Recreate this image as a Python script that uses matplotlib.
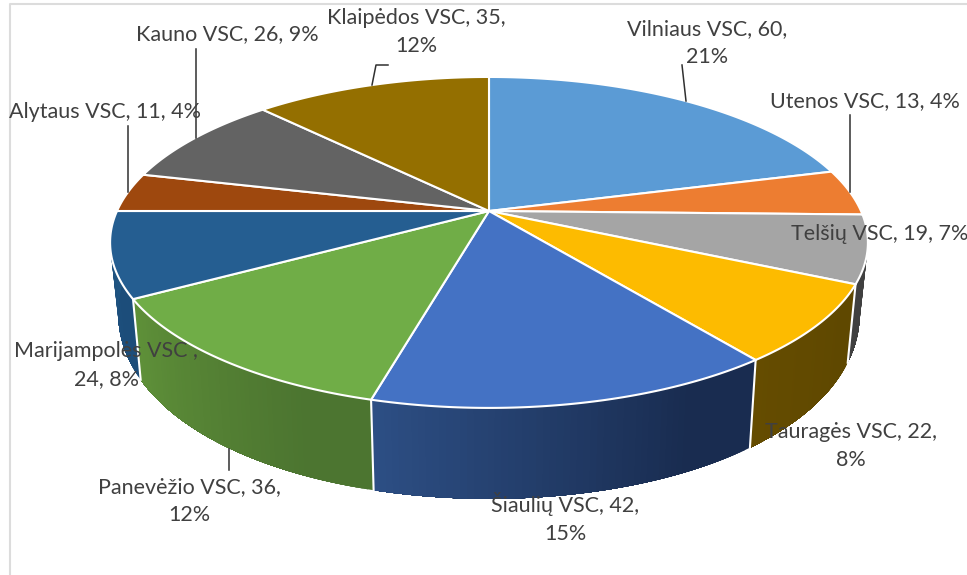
import numpy as np
import matplotlib
matplotlib.use("Agg")
import matplotlib.pyplot as plt
from matplotlib.colors import to_rgb

# Datos del gráfico
nombres = ["Vilniaus VSC", "Utenos VSC", "Telšių VSC", "Tauragės VSC", "Šiaulių VSC",
           "Panevėžio VSC", "Marijampolės VSC ", "Alytaus VSC", "Kauno VSC", "Klaipėdos VSC"]
valores = [60, 13, 19, 22, 42, 36, 24, 11, 26, 35]
porcentajes = [21, 4, 7, 8, 15, 12, 8, 4, 9, 12]

# Colores de la cara superior y del lateral (derecha, izquierda)
colores = ["#5b9bd5", "#ed7d31", "#a5a5a5", "#fdbb00", "#4472c4",
           "#70ad47", "#255e91", "#9e480e", "#636363", "#946f00"]
lateral = [("#3a6a96", "#3a6a96"), ("#a05520", "#a05520"), ("#404040", "#404040"),
           ("#5f4800", "#654c00"), ("#192c50", "#2d4f85"), ("#4c7530", "#5f9139"),
           ("#1c4d7a", "#205684"), ("#6e320a", "#6e320a"), ("#444444", "#444444"),
           ("#6a4f00", "#6a4f00")]

# Posición de las etiquetas: salto de línea tras el nombre/valor, centro x, y
saltos = [True, False, False, True, True, True, None, False, False, True]
pos_texto = [(707, 43), (865, 101), (880, 234), (851, 446), (565, 518),
             (189, 501), (106, 365), (105, 112), (227, 34), (416, 32)]

# Líneas guía de las etiquetas
guias = [[(686, 101), (682, 65)], [(850, 192), (850, 115)], [(372, 85), (376, 65), (388, 65)],
         [(196, 138), (196, 49)], [(128, 192), (128, 126)], [(229, 449), (229, 470)]]


# Proyección en perspectiva del borde superior del disco
def borde_superior(t):
    u, v = np.sin(t), np.cos(t)
    w = 1 + 0.19 * v
    return 489 + 372 * u / w, 211 - 159.5 * v / w


# Borde inferior del lateral
def borde_inferior(t):
    u, v = np.sin(t), np.cos(t)
    return 489 + 364 * u / (1 + 0.19 * v), 275 - 197 * v / (1 + 0.12 * v)


def mezclar(c1, c2, f):
    return tuple((1 - f) * a + f * b for a, b in zip(to_rgb(c1), to_rgb(c2)))


fig = plt.figure(figsize=(9.67, 5.75), dpi=100)
ax = fig.add_axes([0, 0, 1, 1])
ax.set_xlim(0, 967)
ax.set_ylim(575, 0)
ax.axis("off")

# Marco gris del gráfico
ax.plot([9.5, 9.5, 967], [575, 3.5, 3.5], color="#dcdcdc", lw=1.5, zorder=0)

limites = np.cumsum([0] + valores) / sum(valores) * 2 * np.pi

# Lateral, solo la mitad delantera. Cada tira llega hasta el final del sector
# y la siguiente la tapa, así no quedan rayas entre tiras
for i in range(len(valores)):
    a = max(limites[i], np.pi / 2)
    b = min(limites[i + 1], 3 * np.pi / 2)
    if b <= a:
        continue
    for p in np.linspace(a, b, 60, endpoint=False):
        t = np.linspace(p, b, 40)
        xs, ys = borde_superior(t)
        xi, yi = borde_inferior(t[::-1])
        f = max(0, ((p - a) / (b - a) - 0.2) / 0.8)
        ax.fill(np.r_[xs, xi], np.r_[ys, yi], lw=0, zorder=2,
                facecolor=mezclar(lateral[i][0], lateral[i][1], f))

# Separaciones blancas del lateral
for t in limites[1:-1]:
    if np.pi / 2 < t < 3 * np.pi / 2:
        x0, y0 = borde_superior(t)
        x1, y1 = borde_inferior(t)
        ax.plot([x0, x1], [y0, y1], color="white", lw=1.5, zorder=3)

# Cara superior
for i in range(len(valores)):
    t = np.linspace(limites[i], limites[i + 1], 120)
    x, y = borde_superior(t)
    ax.fill(np.r_[489, x], np.r_[211, y], facecolor=colores[i], edgecolor="white",
            lw=1.5, joinstyle="round", zorder=4)

# Líneas guía
for g in guias:
    xs, ys = zip(*g)
    ax.plot(xs, ys, color="#303030", lw=1.1, zorder=5)

# Etiquetas
for i in range(len(valores)):
    if saltos[i] is None:
        txt = f"{nombres[i]},\n{valores[i]}, {porcentajes[i]}%"
    elif saltos[i]:
        txt = f"{nombres[i]}, {valores[i]},\n{porcentajes[i]}%"
    else:
        txt = f"{nombres[i]}, {valores[i]}, {porcentajes[i]}%"
    ax.text(pos_texto[i][0], pos_texto[i][1], txt, ha="center", va="center", ma="center",
            family="Lato", fontsize=15.5, color="#404040", linespacing=1.5, zorder=6)

fig.savefig("out.png", dpi=100)
